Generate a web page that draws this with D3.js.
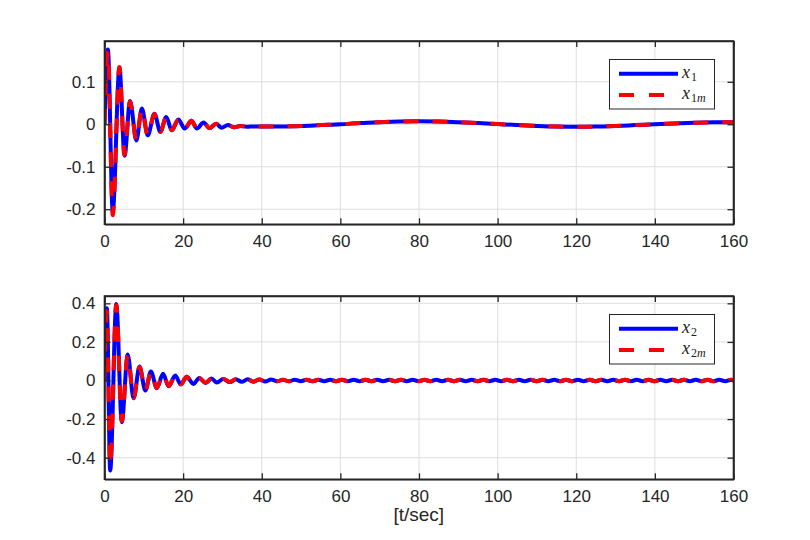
<!DOCTYPE html>
<html><head><meta charset="utf-8">
<script src="https://cdn.jsdelivr.net/npm/d3@7"></script>
<style>body{margin:0;background:#fff}</style></head>
<body>
<svg id="c" width="810" height="540"></svg>
<script>
// ---------- data ----------
const xTicks = [0, 20, 40, 60, 80, 100, 120, 140, 160];
const xTickLabels = ["0", "20", "40", "60", "80", "100", "120", "140", "160"];
const y1Ticks = [-0.2, -0.1, 0, 0.1];
const y1TickLabels = ["-0.2", "-0.1", "0", "0.1"];
const y2Ticks = [-0.4, -0.2, 0, 0.2, 0.4];
const y2TickLabels = ["-0.4", "-0.2", "0", "0.2", "0.4"];
const xLabel = "[t/sec]";

// top panel: x1 and x1m
const x1T = [0, 0.86, 2.1, 3.8, 5.1, 6.5, 8.1, 9.5, 11.0, 12.7, 14.2, 15.7, 17.1, 18.8, 20.4, 22.1, 23.5, 25.2, 26.7, 28.4, 29.8, 31.4, 33.0, 34.6, 36.2, 38,
  40, 45, 50, 55, 60, 65, 70, 75, 80, 85, 90, 95, 100, 105, 110, 115, 120, 125, 130, 135, 140, 145, 150, 155, 160];
const x1V = [0, 0.176, -0.205, 0.133, -0.074, 0.055, -0.038, 0.037, -0.026, 0.025, -0.018, 0.017, -0.014, 0.011, -0.010, 0.008, -0.010, 0.004, -0.009, 0.001, -0.008, -0.002, -0.007, -0.004, -0.006, -0.005,
  -0.005, -0.005, -0.004, -0.002, 0.0, 0.003, 0.005, 0.0065, 0.007, 0.0065, 0.005, 0.003, 0.0005, -0.002, -0.004, -0.0055, -0.006, -0.0055, -0.004, -0.002, 0.0, 0.002, 0.0035, 0.0045, 0.005];
const x1mV = [0, 0.172, -0.214, 0.135, -0.072, 0.054, -0.037, 0.036, -0.026, 0.024, -0.018, 0.017, -0.014, 0.011, -0.010, 0.008, -0.009, 0.004, -0.009, 0.001, -0.008, -0.002, -0.007, -0.004, -0.006, -0.005,
  -0.005, -0.005, -0.004, -0.002, 0.0, 0.003, 0.005, 0.0065, 0.007, 0.0065, 0.005, 0.003, 0.0005, -0.002, -0.004, -0.0055, -0.006, -0.0055, -0.004, -0.002, 0.0, 0.002, 0.0035, 0.0045, 0.005];

// bottom panel: x2 and x2m
const x2T = [0, 0.6, 1.45, 3.0, 4.4, 5.9, 7.4, 8.9, 10.4, 11.8, 13.3, 14.9, 16.3, 18.0, 19.4, 20.9, 22.6, 24.1, 25.7, 27.2, 28.6, 30.2, 31.9,
  33.4, 34.9, 36.4, 37.9, 39.4, 40.9, 42.4, 43.9, 45.4, 46.9,
  48.4, 49.9, 51.4, 52.9, 54.4, 55.9, 57.4, 58.9, 60.4, 61.9,
  63.4, 64.9, 66.4, 67.9, 69.4, 70.9, 72.4, 73.9, 75.4, 76.9,
  78.4, 79.9, 81.4, 82.9, 84.4, 85.9, 87.4, 88.9, 90.4, 91.9,
  93.4, 94.9, 96.4, 97.9, 99.4, 100.9, 102.4, 103.9, 105.4, 106.9,
  108.4, 109.9, 111.4, 112.9, 114.4, 115.9, 117.4, 118.9, 120.4, 121.9,
  123.4, 124.9, 126.4, 127.9, 129.4, 130.9, 132.4, 133.9, 135.4, 136.9,
  138.4, 139.9, 141.4, 142.9, 144.4, 145.9, 147.4, 148.9, 150.4, 151.9,
  153.4, 154.9, 156.4, 157.9, 159.4, 160];
const x2V = [0, 0.375, -0.466, 0.397, -0.216, 0.135, -0.092, 0.072, -0.052, 0.047, -0.040, 0.035, -0.030, 0.026, -0.020, 0.020, -0.018, 0.013, -0.013, 0.010, -0.010, 0.008, -0.008,
  0.007, -0.007, 0.006, -0.006, 0.005, -0.005, 0.005, -0.004, 0.004, -0.004,
  0.004, -0.0035, 0.0035, -0.0035, 0.0035, -0.0035, 0.0035, -0.0035, 0.0035, -0.0035,
  0.0035, -0.0035, 0.0035, -0.0035, 0.0035, -0.0035, 0.0035, -0.0035, 0.0035, -0.0035,
  0.0035, -0.0035, 0.0035, -0.0035, 0.0035, -0.0035, 0.0035, -0.0035, 0.0035, -0.0035,
  0.0035, -0.0035, 0.0035, -0.0035, 0.0035, -0.0035, 0.0035, -0.0035, 0.0035, -0.0035,
  0.0035, -0.0035, 0.0035, -0.0035, 0.0035, -0.0035, 0.0035, -0.0035, 0.0035, -0.0035,
  0.0035, -0.0035, 0.0035, -0.0035, 0.0035, -0.0035, 0.0035, -0.0035, 0.0035, -0.0035,
  0.0035, -0.0035, 0.0035, -0.0035, 0.0035, -0.0035, 0.0035, -0.0035, 0.0035, -0.0035,
  0.0035, -0.0035, 0.0035, -0.0035, 0.0035, 0];
const x2mV = [0, 0.36, -0.44, 0.39, -0.21, 0.13, -0.09, 0.070, -0.051, 0.046, -0.039, 0.034, -0.029, 0.025, -0.020, 0.019, -0.017, 0.013, -0.012, 0.010, -0.010, 0.008, -0.008,
  0.007, -0.007, 0.006, -0.006, 0.005, -0.005, 0.005, -0.004, 0.004, -0.004,
  0.004, -0.0035, 0.0035, -0.0035, 0.0035, -0.0035, 0.0035, -0.0035, 0.0035, -0.0035,
  0.0035, -0.0035, 0.0035, -0.0035, 0.0035, -0.0035, 0.0035, -0.0035, 0.0035, -0.0035,
  0.0035, -0.0035, 0.0035, -0.0035, 0.0035, -0.0035, 0.0035, -0.0035, 0.0035, -0.0035,
  0.0035, -0.0035, 0.0035, -0.0035, 0.0035, -0.0035, 0.0035, -0.0035, 0.0035, -0.0035,
  0.0035, -0.0035, 0.0035, -0.0035, 0.0035, -0.0035, 0.0035, -0.0035, 0.0035, -0.0035,
  0.0035, -0.0035, 0.0035, -0.0035, 0.0035, -0.0035, 0.0035, -0.0035, 0.0035, -0.0035,
  0.0035, -0.0035, 0.0035, -0.0035, 0.0035, -0.0035, 0.0035, -0.0035, 0.0035, -0.0035,
  0.0035, -0.0035, 0.0035, -0.0035, 0.0035, 0];

// ---------- drawing ----------
const svg = d3.select("#c");
const AX = "#262626", GRID = "#dedede", BLUE = "#0000ff", RED = "#ff0000";
const TICKFONT = "'Liberation Sans', Arial, Helvetica, sans-serif";
const LEFT = 104.5, RIGHT = 733.5;

function panel(id, top, bottom, yDomain, yTicks, yLabels, tArr, vA, vB, sub1, sub2, legTop) {
  const x = d3.scaleLinear().domain([0, 160]).range([LEFT, RIGHT]);
  const y = d3.scaleLinear().domain(yDomain).range([bottom, top]);
  const g = svg.append("g");

  // grid
  g.append("g").selectAll("line").data(xTicks).join("line")
    .attr("x1", d => x(d)).attr("x2", d => x(d)).attr("y1", top).attr("y2", bottom)
    .attr("stroke", GRID).attr("stroke-width", 1);
  g.append("g").selectAll("line").data(yTicks).join("line")
    .attr("x1", LEFT).attr("x2", RIGHT).attr("y1", d => y(d)).attr("y2", d => y(d))
    .attr("stroke", GRID).attr("stroke-width", 1);

  // clip
  svg.append("clipPath").attr("id", id).append("rect")
    .attr("x", LEFT).attr("y", top).attr("width", RIGHT - LEFT).attr("height", bottom - top);

  const line = d3.line().x(d => x(d[0])).y(d => y(d[1])).curve(d3.curveMonotoneX);
  const dA = tArr.map((t, i) => [t, vA[i]]);
  const dB = tArr.map((t, i) => [t, vB[i]]);
  const lg = g.append("g").attr("clip-path", `url(#${id})`);
  lg.append("path").attr("d", line(dA)).attr("fill", "none").attr("stroke", BLUE)
    .attr("stroke-width", 4).attr("stroke-linejoin", "round");
  lg.append("path").attr("d", line(dB)).attr("fill", "none").attr("stroke", RED)
    .attr("stroke-width", 4).attr("stroke-dasharray", "15,14").attr("stroke-linejoin", "round");

  // axes
  const styleAxis = sel => {
    sel.attr("font-family", TICKFONT).attr("font-size", 17).attr("color", AX);
    sel.select(".domain").attr("stroke-width", 1.6);
    sel.selectAll(".tick line").attr("stroke-width", 1.3);
  };
  g.append("g").attr("transform", `translate(0,${bottom})`)
    .call(d3.axisBottom(x).tickValues(xTicks).tickFormat((d, i) => xTickLabels[i])
      .tickSizeInner(-6).tickSizeOuter(0).tickPadding(10.5)).call(styleAxis);
  g.append("g").attr("transform", `translate(0,${top})`)
    .call(d3.axisTop(x).tickValues(xTicks).tickFormat("").tickSizeInner(-6).tickSizeOuter(0)).call(styleAxis);
  g.append("g").attr("transform", `translate(${LEFT},0)`)
    .call(d3.axisLeft(y).tickValues(yTicks).tickFormat((d, i) => yLabels[i])
      .tickSizeInner(-6).tickSizeOuter(0).tickPadding(9)).call(styleAxis);
  g.append("g").attr("transform", `translate(${RIGHT},0)`)
    .call(d3.axisRight(y).tickValues(yTicks).tickFormat("").tickSizeInner(-6).tickSizeOuter(0)).call(styleAxis);
  g.append("rect").attr("x", LEFT).attr("y", top).attr("width", RIGHT - LEFT).attr("height", bottom - top)
    .attr("fill", "none").attr("stroke", AX).attr("stroke-width", 1.6);

  // legend
  const lx = 609.5, lw = 105, lh = 49.5;
  const L = g.append("g");
  L.append("rect").attr("x", lx).attr("y", legTop).attr("width", lw).attr("height", lh)
    .attr("fill", "#fff").attr("stroke", AX).attr("stroke-width", 1);
  const ly1 = legTop + 14.3, ly2 = legTop + 35.5;
  L.append("line").attr("x1", 619).attr("x2", 678).attr("y1", ly1).attr("y2", ly1)
    .attr("stroke", BLUE).attr("stroke-width", 4);
  L.append("line").attr("x1", 619).attr("x2", 678).attr("y1", ly2).attr("y2", ly2)
    .attr("stroke", RED).attr("stroke-width", 4).attr("stroke-dasharray", "15,15");
  const addLabel = (yy, sub) => {
    const t = L.append("text").attr("x", 682).attr("y", yy + 4)
      .attr("font-family", "'Liberation Serif', 'Times New Roman', serif").attr("fill", "#222");
    t.append("tspan").attr("font-style", "italic").attr("font-size", 18).text("x");
    sub.forEach((s, i) => {
      const ts = t.append("tspan").attr("font-size", 12).attr("font-style", s.it ? "italic" : "normal").text(s.c);
      if (i === 0) ts.attr("dx", 1).attr("dy", 3);
    });
  };
  addLabel(ly1, sub1);
  addLabel(ly2, sub2);
}

panel("clipTop", 41, 224.3, [-0.2355, 0.196], y1Ticks, y1TickLabels, x1T, x1V, x1mV,
  [{c: "1"}], [{c: "1"}, {c: "m", it: true}], 59.5);
panel("clipBot", 296, 479.3, [-0.512, 0.438], y2Ticks, y2TickLabels, x2T, x2V, x2mV,
  [{c: "2"}], [{c: "2"}, {c: "m", it: true}], 314.5);

svg.append("text").attr("x", 418.8).attr("y", 521).attr("text-anchor", "middle")
  .attr("font-family", TICKFONT).attr("font-size", 19).attr("fill", AX).text(xLabel);
</script>
</body></html>
